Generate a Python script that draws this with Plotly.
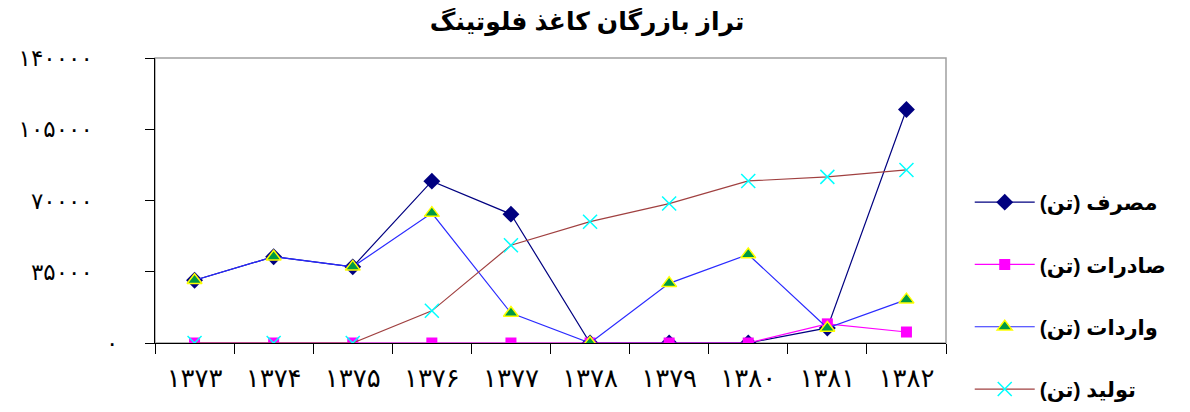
import plotly.graph_objects as go

# سال‌ها و مقادیر (تن)
years = ['۱۳۷۳', '۱۳۷۴', '۱۳۷۵', '۱۳۷۶', '۱۳۷۷', '۱۳۷۸', '۱۳۷۹', '۱۳۸۰', '۱۳۸۱', '۱۳۸۲']
consumption = [30800, 42400, 37400, 79500, 63300, 0, 0, 0, 7400, 114700]
exports = [0, 0, 0, 0, 0, 0, 0, 0, 9400, 5400]
imports = [30800, 42400, 37400, 63800, 14700, 0, 29300, 43500, 7400, 21300]
production = [0, 0, 0, 15800, 48000, 59600, 68500, 79600, 81600, 85000]

y_ticks = [0, 35000, 70000, 105000, 140000]
# trailing no-break spaces push the longer labels left, like the original
pad = '\u00a0' * 4
y_ticktext = ['۰', '۳۵۰۰۰' + pad, '۷۰۰۰۰' + pad, '۱۰۵۰۰۰' + pad, '۱۴۰۰۰۰' + pad]

fnt = 'Arial, Liberation Sans, DejaVu Sans, sans-serif'

fig = go.Figure()
fig.add_trace(go.Scatter(
    x=years, y=consumption, name='مصرف (تن)', mode='lines+markers', legendgroup='a',
    line=dict(color='#000080', width=1.2),
    marker=dict(symbol='diamond', size=13, color='#000080')))
fig.add_trace(go.Scatter(
    x=years, y=exports, name='صادرات (تن)', mode='lines+markers', legendgroup='b',
    line=dict(color='#ff00ff', width=1.2),
    marker=dict(symbol='square', size=11, color='#ff00ff')))
fig.add_trace(go.Scatter(
    x=years, y=imports, name='واردات (تن)', mode='lines+markers', legendgroup='c',
    line=dict(color='#2a2aff', width=1.2),
    marker=dict(symbol='triangle-up', size=13, color='#009944',
                line=dict(color='#ffff00', width=1.5))))
fig.add_trace(go.Scatter(
    x=years, y=production, name='تولید (تن)', mode='lines+markers', legendgroup='d',
    line=dict(color='#a04040', width=1.2),
    marker=dict(symbol='x-thin-open', size=14, color='#00ffff',
                line=dict(color='#00ffff', width=1.5))))

# gray frame around plot area
fig.add_shape(type='rect', xref='paper', yref='paper', x0=0, x1=1, y0=0, y1=1,
              line=dict(color='#a0a0a0', width=1.5), layer='below')

# page body adds an 8px offset, so the figure is a bit smaller than the window
fig.update_layout(
    width=1182, height=404,
    margin=dict(l=147, r=244, t=50, b=69, autoexpand=False),
    paper_bgcolor='white', plot_bgcolor='white',
    font=dict(family=fnt, color='black'),
    title=dict(text='<b>تراز بازرگان کاغذ فلوتینگ</b>', x=0.49, xref='container',
               y=0.968, yref='container', xanchor='center', yanchor='middle',
               font=dict(size=25, family=fnt)),
    showlegend=True,
    legend=dict(x=1.03, xanchor='left', y=0.565, yanchor='top',
                font=dict(size=21, family=fnt, weight='bold'),
                tracegroupgap=32, itemwidth=60, bgcolor='rgba(0,0,0,0)'),
    xaxis=dict(type='category', range=[-0.5, 9.5], showgrid=False, showline=True,
               linecolor='black', linewidth=1.2, ticks='outside', ticklen=10,
               tickcolor='black', tickson='boundaries', tickfont=dict(size=26),
               ticklabelstandoff=12, automargin=False),
    yaxis=dict(range=[0, 140000], tickvals=y_ticks, ticktext=y_ticktext,
               showgrid=False, showline=True, linecolor='black', linewidth=1.2,
               ticks='outside', ticklen=9, tickcolor='black', zeroline=False,
               tickfont=dict(size=23), ticklabelstandoff=22, automargin=False),
)

fig.write_html('out.html')
